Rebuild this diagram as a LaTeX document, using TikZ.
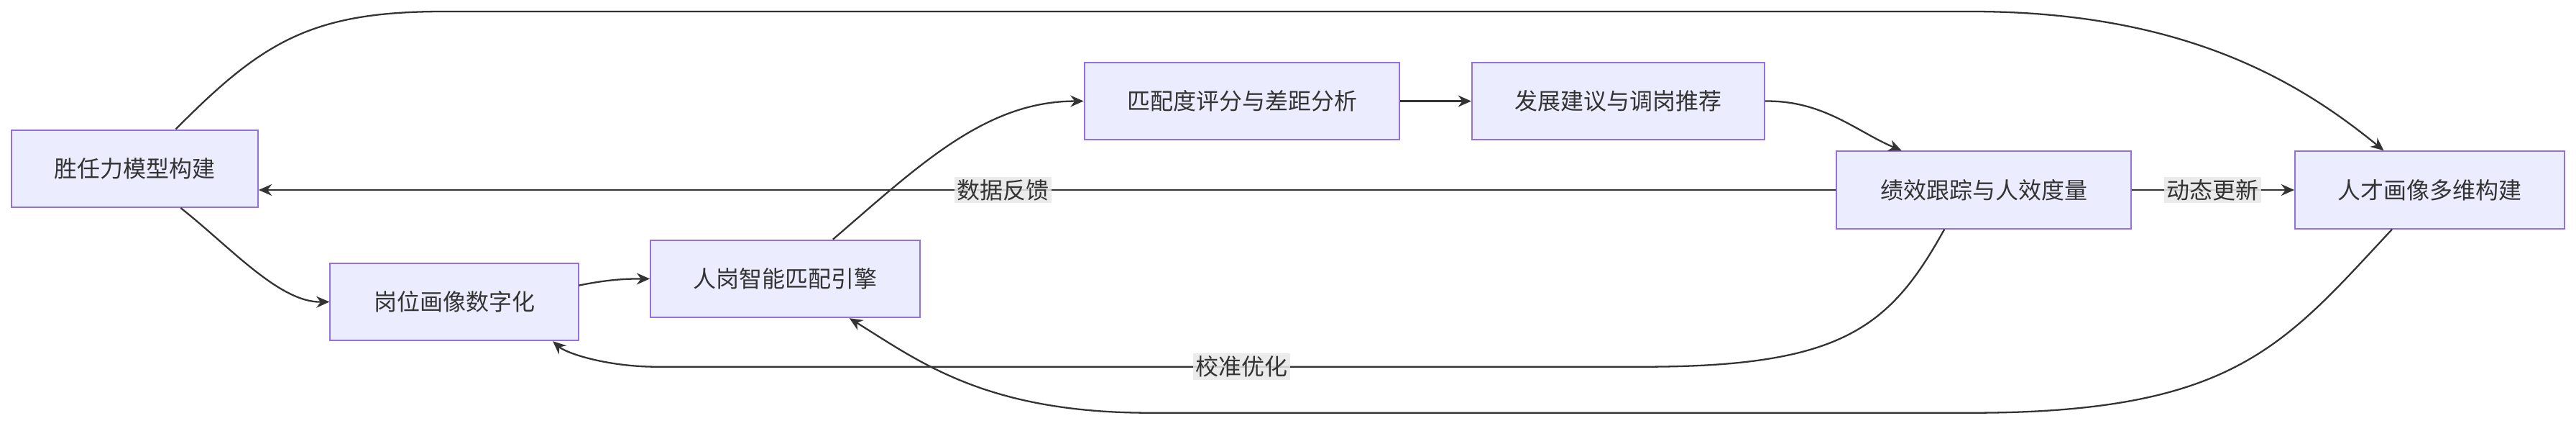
\documentclass[tikz,border=0pt]{standalone}
\usepackage{fontspec}
\setmainfont{Noto Sans CJK SC}
\usetikzlibrary{arrows.meta}
\definecolor{nfill}{HTML}{ECECFF}
\definecolor{nline}{HTML}{9370DB}
\definecolor{eline}{HTML}{333333}
\definecolor{lbl}{HTML}{E8E8E8}
\begin{document}
\begin{tikzpicture}[x=1pt,y=1pt,
  box/.style={draw=nline,fill=nfill,line width=0.9pt,minimum height=47pt,inner sep=0pt,font=\fontsize{14}{17}\selectfont,text=eline},
  edge/.style={draw=eline,line width=1pt,-{Stealth[length=8pt,width=7pt]}},
  lab/.style={fill=lbl,fill opacity=0.85,text opacity=1,inner sep=1.5pt,font=\fontsize{14}{17}\selectfont,text=eline}]
\useasboundingbox (0,0) rectangle (1568,-259);
\node[box,minimum width=150pt] (A) at (82,-102.5) {胜任力模型构建};
\node[box,minimum width=151pt] (B) at (276.5,-183.5) {岗位画像数字化};
\node[box,minimum width=164pt] (C) at (478,-169.5) {人岗智能匹配引擎};
\node[box,minimum width=192pt] (D) at (756,-61.5) {匹配度评分与差距分析};
\node[box,minimum width=178pt] (E) at (985,-61.5) {发展建议与调岗推荐};
\node[box,minimum width=179pt] (F) at (1207.5,-115.5) {绩效跟踪与人效度量};
\node[box,minimum width=164pt] (G) at (1479,-115.5) {人才画像多维构建};
\draw[edge] ([xshift=28pt]A.south) .. controls (140,-150) and (170,-184) .. (B.west);
\draw[edge] ([yshift=10pt]B.east) .. controls (370,-170) and (380,-169.5) .. (C.west);
\draw[edge] ([xshift=29pt]C.north) .. controls (560,-100) and (600,-61.5) .. (D.west);
\draw[edge] (D.east) -- (E.west);
\draw[edge] (E.east) .. controls (1110,-61) and (1130,-80) .. ([xshift=-50pt]F.north);
\draw[edge] (F.east) -- node[lab]{动态更新} (G.west);
\draw[edge] (F.west) -- node[lab,pos=0.528]{数据反馈} ([yshift=-13pt]A.east);
\draw[edge] ([xshift=25pt]A.north) .. controls (160,-25) and (190,-7) .. (270,-7) -- (1200,-7) .. controls (1330,-7) and (1400,-50) .. ([xshift=-28pt]G.north);
\draw[edge] ([xshift=-24pt]F.south) .. controls (1150,-200) and (1120,-223) .. (1000,-223) -- node[lab,pos=0.407]{校准优化} (400,-223) .. controls (370,-223) and (345,-215) .. ([xshift=60pt]B.south);
\draw[edge] ([xshift=-23pt]G.south) .. controls (1390,-210) and (1360,-251) .. (1200,-251) -- (700,-251) .. controls (600,-251) and (560,-220) .. ([xshift=39pt]C.south);
\end{tikzpicture}
\end{document}
